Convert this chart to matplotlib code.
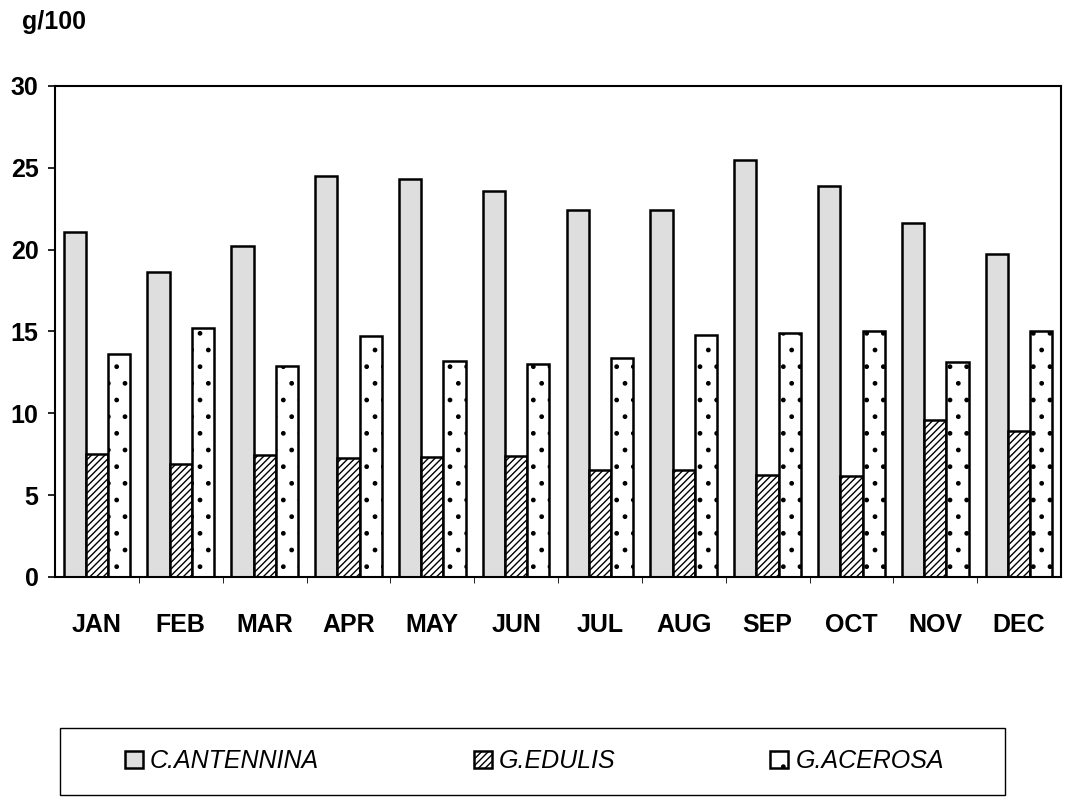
import numpy as np
import matplotlib
matplotlib.use("Agg")
import matplotlib.pyplot as plt
from matplotlib.patches import Rectangle

months = ["JAN", "FEB", "MAR", "APR", "MAY", "JUN",
          "JUL", "AUG", "SEP", "OCT", "NOV", "DEC"]
c_antennina = [21.1, 18.6, 20.2, 24.5, 24.3, 23.6, 22.4, 22.4, 25.5, 23.9, 21.6, 19.7]
g_edulis = [7.5, 6.9, 7.45, 7.25, 7.35, 7.4, 6.5, 6.55, 6.2, 6.15, 9.6, 8.9]
g_acerosa = [13.6, 15.2, 12.9, 14.7, 13.2, 13.0, 13.4, 14.8, 14.9, 15.05, 13.1, 15.0]
series_names = ["C.ANTENNINA", "G.EDULIS", "G.ACEROSA"]

plt.rcParams["font.family"] = ["Liberation Sans", "DejaVu Sans"]
plt.rcParams["hatch.linewidth"] = 1.0

fig = plt.figure(figsize=(10.69, 7.99), dpi=100)
ax = fig.add_axes([0.0515, 0.278, 0.941, 0.6145])

x = np.arange(len(months))
w = 0.265
ax.bar(x - w, c_antennina, w, color="#dedede", edgecolor="black", lw=1.8,
       label=series_names[0])
ax.bar(x, g_edulis, w, color="white", edgecolor="black", lw=1.8, hatch="/////",
       label=series_names[1])
ax.bar(x + w, g_acerosa, w, color="white", edgecolor="black", lw=1.8, hatch=".",
       label=series_names[2])

ax.set_xlim(-0.5, len(months) - 0.5)
ax.set_ylim(0, 30)
ax.set_yticks(range(0, 31, 5))
ax.set_xticks(x)
ax.set_xticklabels(months)
ax.set_xticks(np.arange(0.5, len(months) - 0.5, 1), minor=True)
ax.tick_params(axis="x", which="major", length=0, pad=26, labelsize=18)
ax.tick_params(axis="x", which="minor", length=4, direction="out")
ax.tick_params(axis="y", length=5, width=1.2, pad=7, labelsize=18)
for lab in ax.get_xticklabels() + ax.get_yticklabels():
    lab.set_fontweight("bold")
for s in ax.spines.values():
    s.set_linewidth(1.5)

fig.text(0.021, 0.972, "g/100", fontsize=18, fontweight="bold", va="center")

# legend box drawn separately so the entries can sit inset from its edges
fig.patches.append(Rectangle((0.056, 0.005), 0.884, 0.084, transform=fig.transFigure,
                             fill=False, edgecolor="black", lw=1.0))
leg = fig.legend(loc="center", bbox_to_anchor=(0.117, 0.005, 0.766, 0.084),
                 mode="expand", ncol=3, frameon=False,
                 prop={"size": 18, "style": "italic"}, handlelength=0.7,
                 handleheight=0.7, handletextpad=0.3, borderpad=0.0,
                 borderaxespad=0.0)

fig.savefig("out.png", dpi=100)
